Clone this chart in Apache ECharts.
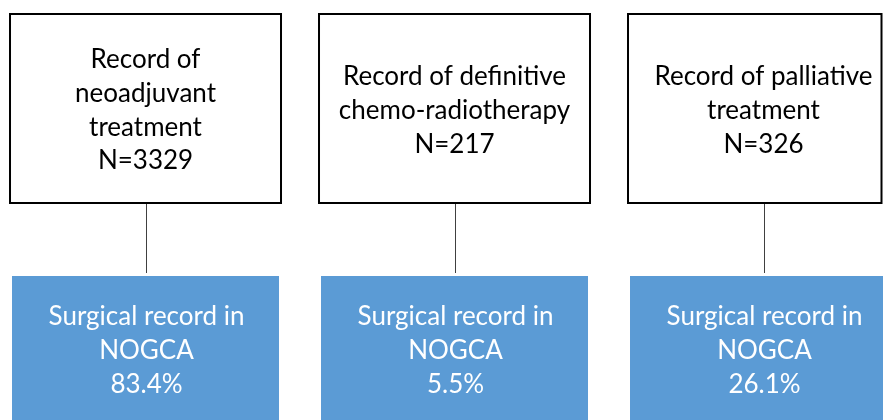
<!DOCTYPE html>
<html>
<head>
<meta charset="utf-8">
<script src="https://cdn.jsdelivr.net/npm/echarts@6/dist/echarts.min.js"></script>
<style>html,body{margin:0;padding:0;background:#fff;}#main{width:883px;height:420px;}</style>
</head>
<body>
<div id="main"></div>
<script>
// Data
const categories = ['Record of\nneoadjuvant\ntreatment', 'Record of definitive\nchemo-radiotherapy', 'Record of palliative\ntreatment'];
const nValues = [3329, 217, 326];
const surgicalPct = [83.4, 5.5, 26.1];
const surgicalLabel = 'Surgical record in\nNOGCA';

const chart = echarts.init(document.getElementById('main'), null, {renderer: 'canvas'});
const FONT = 'Lato, "Open Sans", sans-serif';

const seriesData = categories.map((c, i) => [i, nValues[i], surgicalPct[i]]);

const option = {
  animation: false,
  backgroundColor: '#ffffff',
  grid: {left: 0, right: 0, top: 0, bottom: 0},
  xAxis: {type: 'value', min: -0.4709, max: 2.3867, show: false},
  yAxis: {type: 'value', min: 0, max: 420, inverse: true, show: false},
  series: [{
    type: 'custom',
    data: seriesData,
    renderItem: function (params, api) {
      const i = api.value(0);
      const n = api.value(1);
      const pct = api.value(2);
      const cx = api.coord([i, 0])[0];
      const yTop = api.coord([0, 14])[1];
      const yBot = api.coord([0, 203])[1];
      const yBlue = api.coord([0, 276])[1];
      const yEnd = api.coord([0, 430])[1];
      const yTextTop = api.coord([0, 110.5])[1];
      const yTextBlue = api.coord([0, 351])[1];
      const W = params.coordSys.width;
      const bw = 271, blw = 267;
      let bx = cx - bw / 2;
      let bRight = Math.min(bx + bw, W - 1.5);
      let blx = cx - blw / 2;
      let blRight = Math.min(blx + blw, W + 5);
      return {
        type: 'group',
        children: [
          {type: 'rect', shape: {x: bx, y: yTop, width: bRight - bx, height: yBot - yTop},
            style: {fill: '#ffffff', stroke: '#000000', lineWidth: 2}},
          {type: 'line', shape: {x1: Math.round(cx) + 0.5, y1: yBot + 1, x2: Math.round(cx) + 0.5, y2: yBlue - 3},
            style: {stroke: '#404040', lineWidth: 1}},
          {type: 'rect', shape: {x: blx, y: yBlue, width: blRight - blx, height: yEnd - yBlue},
            style: {fill: '#5B9BD5'}},
          {type: 'text', style: {text: categories[i] + '\nN=' + n, x: cx, y: yTextTop,
            align: 'center', verticalAlign: 'middle', fontFamily: FONT, fontSize: 26,
            lineHeight: 33.7, fill: '#000000'}},
          {type: 'text', style: {text: surgicalLabel + '\n' + pct.toFixed(1) + '%', x: cx + 1, y: yTextBlue,
            align: 'center', verticalAlign: 'middle', fontFamily: FONT, fontSize: 26,
            lineHeight: 34, fill: '#ffffff'}}
        ]
      };
    }
  }]
};
chart.setOption(option);
</script>
</body>
</html>
